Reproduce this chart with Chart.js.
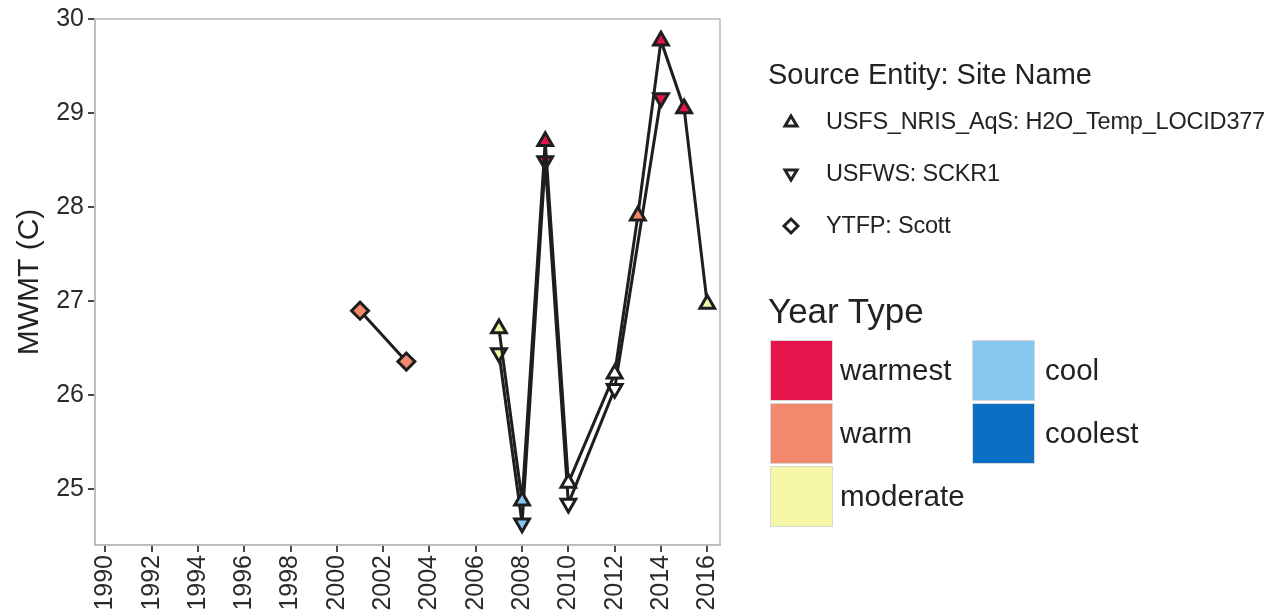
<!DOCTYPE html>
<html>
<head>
<meta charset="utf-8">
<script src="https://cdn.jsdelivr.net/npm/chart.js@4.4.1/dist/chart.umd.min.js"></script>
<style>
  body { margin: 0; background: #fff; }
  #wrap { position: relative; width: 1285px; height: 615px; font-family: "Liberation Sans", Arial, sans-serif; color: #222; }
  #chart { position: absolute; left: 0; top: 0; }
  .lg { position: absolute; white-space: nowrap; line-height: 1; }
  .box { position: absolute; box-sizing: border-box; border: 1px solid #d8d8d8; }
  svg.icon { position: absolute; overflow: visible; }
</style>
</head>
<body>
<div id="wrap">
  <canvas id="chart" width="1285" height="615"></canvas>
</div>
<script>
// USFS_NRIS_AqS: H2O_Temp_LOCID377 (triangle up)
const upYears = [2007, 2008, 2009, 2010, 2012, 2013, 2014, 2015, 2016];
const upValues = [26.71, 24.88, 28.70, 25.07, 26.23, 27.91, 29.77, 29.05, 26.97];
const upTypes = ["moderate", "cool", "warmest", "none", "none", "warm", "warmest", "warmest", "moderate"];

// USFWS: SCKR1 (triangle down)
const downYears = [2007, 2008, 2009, 2010, 2012, 2014];
const downValues = [26.45, 24.64, 28.49, 24.85, 26.07, 29.16];
const downTypes = ["moderate", "cool", "warmest", "none", "none", "warmest"];

// YTFP: Scott (diamond)
const scottYears = [2001, 2003];
const scottValues = [26.90, 26.36];
const scottTypes = ["warm", "warm"];

const sourceNames = ["USFS_NRIS_AqS: H2O_Temp_LOCID377", "USFWS: SCKR1", "YTFP: Scott"];
const yearTypes = ["warmest", "warm", "moderate", "cool", "coolest"];
const xTickYears = [1990, 1992, 1994, 1996, 1998, 2000, 2002, 2004, 2006, 2008, 2010, 2012, 2014, 2016];
const yTickValues = [25, 26, 27, 28, 29, 30];

const typeColors = {
  warmest: "#e5154c",
  warm: "#f2896c",
  moderate: "#f6f6a8",
  cool: "#86c8ef",
  coolest: "#0b6fc4",
  none: "#ffffff",
};

const FONT = '"Liberation Sans", Arial, sans-serif';
const LINE = "#1e1e1e";

function toPoints(xs, ys) {
  return xs.map((x, i) => ({ x: x, y: ys[i] }));
}

function series(label, xs, ys, types, style, rotation, radius) {
  return {
    label: label,
    data: toPoints(xs, ys),
    borderColor: LINE,
    borderWidth: 3,
    pointStyle: style,
    pointRotation: rotation,
    pointRadius: radius,
    pointBorderWidth: 3,
    pointBorderColor: LINE,
    pointBackgroundColor: types.map((t) => typeColors[t]),
    tension: 0,
    clip: false,
  };
}

// light grey panel frame
const panelFrame = {
  id: "panelFrame",
  beforeDatasetsDraw(chart) {
    const a = chart.chartArea;
    const ctx = chart.ctx;
    ctx.save();
    ctx.strokeStyle = "#b8b8b8";
    ctx.lineWidth = 1.5;
    ctx.strokeRect(a.left, a.top, a.right - a.left, a.bottom - a.top);
    ctx.restore();
  },
};

new Chart(document.getElementById("chart"), {
  type: "line",
  data: {
    datasets: [
      series(sourceNames[0], upYears, upValues, upTypes, "triangle", 0, 8.5),
      series(sourceNames[1], downYears, downValues, downTypes, "triangle", 180, 8.5),
      series(sourceNames[2], scottYears, scottValues, scottTypes, "rectRot", 0, 8.5),
    ],
  },
  options: {
    responsive: false,
    animation: false,
    devicePixelRatio: 1,
    layout: { padding: { left: 0, top: 15, right: 565, bottom: 0 } },
    plugins: {
      legend: { display: false },
      tooltip: { enabled: false },
    },
    scales: {
      x: {
        type: "linear",
        min: 1989.55,
        max: 2016.55,
        afterBuildTicks: (scale) => {
          scale.ticks = xTickYears.map((v) => ({ value: v }));
        },
        afterFit: (scale) => {
          scale.height = 70;
        },
        ticks: {
          autoSkip: false,
          minRotation: 90,
          maxRotation: 90,
          padding: 3,
          color: "#2b2b2b",
          font: { family: FONT, size: 25 },
          callback: (v) => String(v),
        },
        grid: {
          display: true,
          drawOnChartArea: false,
          drawTicks: true,
          tickLength: 7,
          color: "#4a4a4a",
          lineWidth: 2,
        },
        border: { display: true, color: "#b8b8b8", width: 1.5 },
      },
      y: {
        type: "linear",
        min: 24.41,
        max: 30.0,
        afterBuildTicks: (scale) => {
          scale.ticks = yTickValues.map((v) => ({ value: v }));
        },
        afterFit: (scale) => {
          scale.width = 95;
        },
        ticks: {
          padding: 4,
          color: "#2b2b2b",
          font: { family: FONT, size: 25 },
          callback: (v) => String(v),
        },
        grid: {
          display: true,
          drawOnChartArea: false,
          drawTicks: true,
          tickLength: 7,
          color: "#4a4a4a",
          lineWidth: 2,
        },
        border: { display: true, color: "#b8b8b8", width: 1.5 },
        title: {
          display: true,
          text: "MWMT (C)",
          color: "#222",
          font: { family: FONT, size: 30 },
          padding: { top: 12, bottom: 0 },
        },
      },
    },
  },
  plugins: [panelFrame],
});

// ---- legends (HTML) ----
const wrap = document.getElementById("wrap");

function addText(text, left, top, size, extra) {
  const d = document.createElement("div");
  d.className = "lg";
  d.textContent = text;
  d.style.left = left + "px";
  d.style.top = top + "px";
  d.style.fontSize = size + "px";
  if (extra) Object.assign(d.style, extra);
  wrap.appendChild(d);
}

function addIcon(cx, cy, shape) {
  const ns = "http://www.w3.org/2000/svg";
  const svg = document.createElementNS(ns, "svg");
  svg.setAttribute("class", "icon");
  svg.setAttribute("width", "20");
  svg.setAttribute("height", "20");
  svg.style.left = cx - 10 + "px";
  svg.style.top = cy - 10 + "px";
  const p = document.createElementNS(ns, "polygon");
  let pts;
  if (shape === "up") pts = "10,4 16,14 4,14";
  else if (shape === "down") pts = "4,6 16,6 10,16";
  else pts = "10,3 17,10 10,17 3,10";
  p.setAttribute("points", pts);
  p.setAttribute("fill", "none");
  p.setAttribute("stroke", "#222");
  p.setAttribute("stroke-width", "3");
  p.setAttribute("stroke-linejoin", "miter");
  svg.appendChild(p);
  wrap.appendChild(svg);
}

addText("Source Entity: Site Name", 768, 60, 29);
const iconShapes = ["up", "down", "diamond"];
const rowTops = [110, 162, 214];
sourceNames.forEach((name, i) => {
  addIcon(791, rowTops[i] + 12, iconShapes[i]);
  addText(name, 826, rowTops[i], 23.5, { letterSpacing: "-0.2px" });
});

addText("Year Type", 768, 293, 35);
const boxPos = [
  [770, 340], [770, 403], [770, 466],
  [972, 340], [972, 403],
];
yearTypes.forEach((t, i) => {
  const b = document.createElement("div");
  b.className = "box";
  b.style.left = boxPos[i][0] + "px";
  b.style.top = boxPos[i][1] + "px";
  b.style.width = "63px";
  b.style.height = "61px";
  b.style.background = typeColors[t];
  wrap.appendChild(b);
  const labelX = boxPos[i][0] === 770 ? 840 : 1045;
  addText(t, labelX, boxPos[i][1] + 15, 29.5);
});
</script>
</body>
</html>
